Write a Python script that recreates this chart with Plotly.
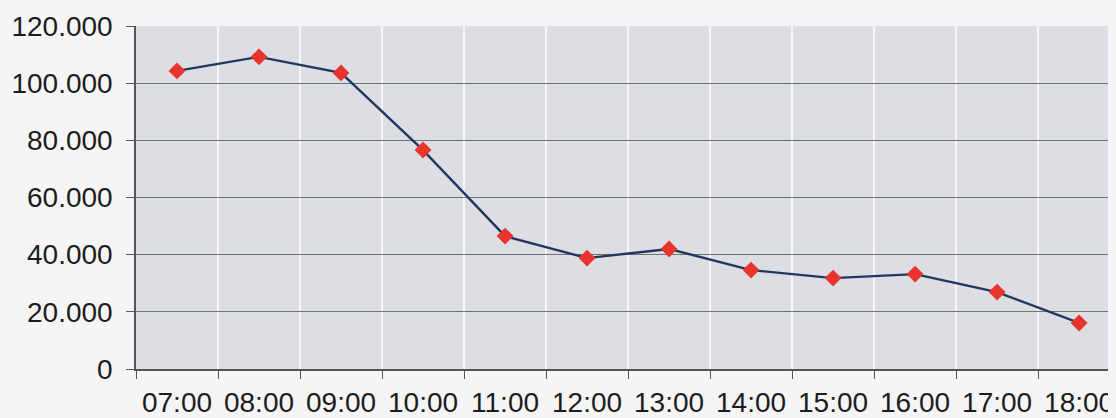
import plotly.graph_objects as go

hours = ["07:00", "08:00", "09:00", "10:00", "11:00", "12:00",
         "13:00", "14:00", "15:00", "16:00", "17:00", "18:00"]
values = [104300, 109200, 103600, 76600, 46500, 38800,
          42000, 34600, 31800, 33200, 26900, 16100]
y_tickvals = [0, 20000, 40000, 60000, 80000, 100000, 120000]
y_ticktext = ["0", "20.000", "40.000", "60.000", "80.000", "100.000", "120.000"]

fig = go.Figure()
fig.add_trace(go.Scatter(
    x=hours, y=values, mode="lines+markers",
    line=dict(color="#223760", width=2.4),
    marker=dict(symbol="diamond", size=13, color="#e8342c",
                line=dict(width=0)),
    showlegend=False,
))

font = dict(family="Liberation Sans, Arial, sans-serif", size=28, color="#1c1c1c")

fig.update_layout(
    width=1108, height=410,
    margin=dict(l=128, r=0, t=18, b=49),
    paper_bgcolor="#f5f5f5",
    plot_bgcolor="#dcdee3",
    font=font,
    xaxis=dict(
        type="category", range=[-0.5, 11.45],
        tickson="boundaries", showgrid=True, gridcolor="#f7f7f7", gridwidth=1.5,
        ticks="outside", ticklen=8, tickcolor="#555555",
        showline=True, linecolor="#555555", linewidth=1.5,
        tickfont=font, zeroline=False, ticklabelstandoff=8,
    ),
    yaxis=dict(
        range=[0, 120000], tickvals=y_tickvals, ticktext=y_ticktext,
        showgrid=True, gridcolor="#6f7573", gridwidth=1.3,
        ticks="outside", ticklen=8, tickcolor="#555555",
        showline=True, linecolor="#555555", linewidth=1.5,
        zeroline=False, tickfont=font, ticklabelstandoff=8,
    ),
)

fig.write_html("out.html", post_script="document.body.style.background='#f5f5f5';")
